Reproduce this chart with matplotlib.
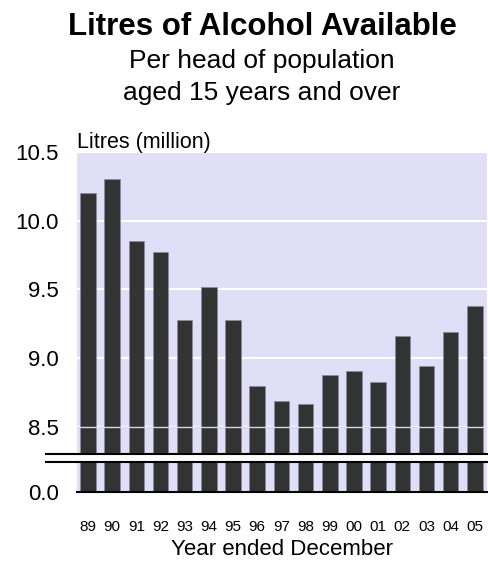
import matplotlib.pyplot as plt
from matplotlib.lines import Line2D

years = ['89', '90', '91', '92', '93', '94', '95', '96', '97', '98',
         '99', '00', '01', '02', '03', '04', '05']
litres = [10.20, 10.30, 9.85, 9.77, 9.28, 9.52, 9.28, 8.80, 8.69, 8.67,
          8.88, 8.91, 8.83, 9.16, 8.94, 9.19, 9.38]
upper_ticks = [8.5, 9.0, 9.5, 10.0, 10.5]
lower_ticks = [0.0]

plt.rcParams['font.family'] = ['Liberation Sans', 'DejaVu Sans']

W, H = 488, 562
BG = '#dfdff7'
BAR = '#333333'

fig = plt.figure(figsize=(W / 100, H / 100), dpi=100)


def box(left, top, right, bottom):
    # pixel box -> figure fraction
    return [left / W, 1 - bottom / H, (right - left) / W, (bottom - top) / H]


ax_top = fig.add_axes(box(77, 152, 487, 453))
ax_bot = fig.add_axes(box(77, 462, 487, 492))

x = list(range(len(years)))
for ax in (ax_top, ax_bot):
    ax.set_facecolor(BG)
    ax.bar(x, litres, width=0.64, color=BAR, edgecolor='#8a8aa0',
           linewidth=0.5, zorder=2)
    ax.set_xlim(-0.45, 16.5)
    for s in ax.spines.values():
        s.set_visible(False)
    ax.tick_params(axis='both', length=0)

# upper part (8.3 - 10.5)
ax_top.set_ylim(8.31, 10.5)
ax_top.set_yticks(upper_ticks)
ax_top.set_yticklabels([f'{v:.1f}' for v in upper_ticks], fontsize=16)
ax_top.tick_params(axis='y', pad=13)
ax_top.set_xticks([])
ax_top.yaxis.grid(True, color='white', linewidth=1.5, zorder=1)
ax_top.set_axisbelow(True)
ax_top.axhline(8.5, color='#d6d6ee', linewidth=1, zorder=3)

# lower part (0 - ...)
ax_bot.set_ylim(0, 0.3)
ax_bot.set_yticks(lower_ticks)
ax_bot.set_yticklabels([f'{v:.1f}' for v in lower_ticks], fontsize=16)
ax_bot.tick_params(axis='y', pad=13)
ax_bot.set_xticks(x)
ax_bot.set_xticklabels(years, fontsize=11)
ax_bot.tick_params(axis='x', pad=20)
ax_bot.spines['bottom'].set_visible(True)
ax_bot.spines['bottom'].set_color('black')
ax_bot.spines['bottom'].set_linewidth(1.5)

# axis break lines
for yp in (453.5, 462.0):
    fig.add_artist(Line2D([46 / W, 1.0], [1 - yp / H] * 2,
                          color='black', linewidth=1.5))

fig.text(262 / W, 1 - 35 / H, 'Litres of Alcohol Available',
         ha='center', va='baseline', fontsize=22.5, fontweight='bold')
fig.text(262 / W, 1 - 68 / H, 'Per head of population',
         ha='center', va='baseline', fontsize=19)
fig.text(262 / W, 1 - 100 / H, 'aged 15 years and over',
         ha='center', va='baseline', fontsize=19)
fig.text(77 / W, 1 - 148 / H, 'Litres (million)',
         ha='left', va='baseline', fontsize=15.5)
fig.text(282 / W, 1 - 555 / H, 'Year ended December',
         ha='center', va='baseline', fontsize=16)

fig.savefig('out.png', dpi=100)
